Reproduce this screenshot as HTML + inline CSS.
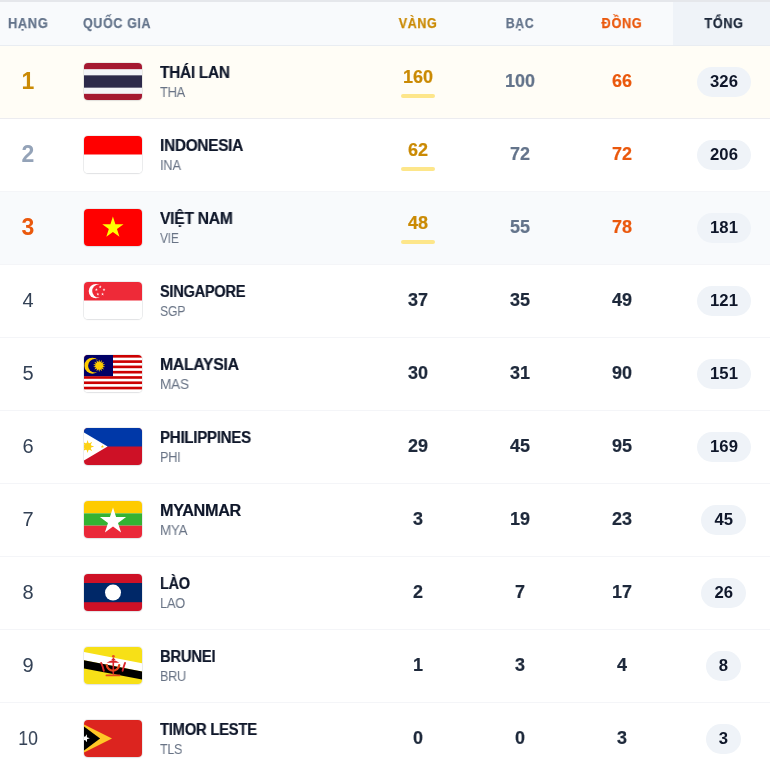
<!DOCTYPE html>
<html><head><meta charset="utf-8"><style>
*{box-sizing:border-box;margin:0;padding:0}
html,body{width:770px;height:773px;overflow:hidden;background:#fff}
body{font-family:"Liberation Sans",sans-serif;position:relative}
.h,.rank,.name,.code,.num,.pill{will-change:transform}
.topb{position:absolute;left:0;top:0;width:770px;height:2px;background:#e5e7eb}
.hdr{position:absolute;left:0;top:2px;width:770px;height:44px;background:#f8fafc;border-bottom:1px solid #e9edf2}
.hdr .tot{position:absolute;left:673px;top:0;width:97px;height:43px;background:#eff3f8}
.h{position:absolute;top:15.1px;font-size:14px;font-weight:bold;letter-spacing:0.7px;-webkit-text-stroke:0.25px currentColor;line-height:16px;color:#64748b;white-space:nowrap}
.row{position:absolute;left:0;width:770px;border-bottom:1px solid #f4f5f8}
.rank{position:absolute;left:0;width:56px;text-align:center;color:#334155;font-size:20px}
.rank.b{font-weight:bold;font-size:23px}
.flag{position:absolute;left:84px;width:58px;height:37px;border-radius:4px;overflow:hidden;box-shadow:0 0 0 1px rgba(15,23,42,0.07),0 1px 2px rgba(15,23,42,0.06)}
.flag svg{display:block}
.name{position:absolute;left:160px;font-size:16px;letter-spacing:-0.3px;-webkit-text-stroke:0.2px currentColor;font-weight:bold;color:#0f172a;white-space:nowrap}
.code{position:absolute;left:160px;font-size:14px;letter-spacing:-0.3px;color:#687385;white-space:nowrap}
.num{position:absolute;width:102px;text-align:center;font-size:18px;font-weight:bold;color:#1e293b;-webkit-text-stroke:0.2px currentColor}
.ul{position:absolute;width:34px;height:4px;border-radius:2px;background:#fde68a}
.pill{position:absolute;height:30px;border-radius:15px;background:#eff3f8;text-align:center;font-size:15.6px;font-weight:bold;line-height:30px;color:#0f172a}
.pill span{display:inline-block;transform:scaleX(1.07);position:relative;top:0.4px;left:-0.1px}
</style></head><body>
<div class="topb"></div>
<div class="hdr"><div class="tot"></div></div>
<div class="h" style="left:7.8px;transform:scaleX(0.9186);transform-origin:0 0">HẠNG</div>
<div class="h" style="left:83px;transform:scaleX(0.8921);transform-origin:0 0">QUỐC GIA</div>
<div class="h" style="left:366.7px;width:102px;text-align:center;color:#ca8a04;transform:scaleX(0.8953)">VÀNG</div>
<div class="h" style="left:468.8px;width:102px;text-align:center;transform:scaleX(0.8750)">BẠC</div>
<div class="h" style="left:571px;width:102px;text-align:center;color:#ea580c;transform:scaleX(0.9114)">ĐỒNG</div>
<div class="h" style="left:673.2px;width:102px;text-align:center;color:#1e293b;transform:scaleX(0.9093)">TỔNG</div>

<div class="row" style="top:46.00px;height:73px;background:#fffdf6;border-bottom-color:#ececf0">
<div class="rank b" style="top:21.4px;line-height:28px;color:#ca8a04">1</div>
<div class="flag" style="top:16.8px"><svg width="58" height="37" viewBox="0 0 58 37" preserveAspectRatio="none"><rect width="58" height="37" fill="#A51931"/><rect y="6.166666666666667" width="58" height="24.666666666666668" fill="#F4F5F8"/><rect y="12.333333333333334" width="58" height="12.333333333333334" fill="#2D2A4A"/></svg></div>
<div class="name" style="top:18px;line-height:18px;transform:scaleX(0.9639);transform-origin:0 0">THÁI LAN</div>
<div class="code" style="top:38px;line-height:16px;transform:scaleX(0.9222);transform-origin:0 0">THA</div>
<div class="num" style="left:366.5px;top:21px;line-height:20px;color:#ca8a04">160</div>
<div class="ul" style="left:400.5px;top:48.3px"></div>
<div class="num" style="left:468.5px;top:25.3px;line-height:20px;color:#64748b">100</div>
<div class="num" style="left:570.7px;top:25.3px;line-height:20px;color:#ea580c">66</div>
<div class="pill" style="top:20.7px;left:696.85px;width:54px"><span>326</span></div>
</div>
<div class="row" style="top:119.00px;height:73px;background:#fff">
<div class="rank b" style="top:21.4px;line-height:28px;color:#94a3b8">2</div>
<div class="flag" style="top:16.8px"><svg width="58" height="37" viewBox="0 0 58 37" preserveAspectRatio="none"><rect width="58" height="37" fill="#fff"/><rect width="58" height="18.5" fill="#FF0000"/></svg></div>
<div class="name" style="top:18px;line-height:18px;transform:scaleX(0.9624);transform-origin:0 0">INDONESIA</div>
<div class="code" style="top:38px;line-height:16px;transform:scaleX(0.9227);transform-origin:0 0">INA</div>
<div class="num" style="left:366.5px;top:21px;line-height:20px;color:#ca8a04">62</div>
<div class="ul" style="left:400.5px;top:48.3px"></div>
<div class="num" style="left:468.5px;top:25.3px;line-height:20px;color:#64748b">72</div>
<div class="num" style="left:570.7px;top:25.3px;line-height:20px;color:#ea580c">72</div>
<div class="pill" style="top:20.7px;left:696.85px;width:54px"><span>206</span></div>
</div>
<div class="row" style="top:192.00px;height:73px;background:#f8fafc">
<div class="rank b" style="top:21.4px;line-height:28px;color:#ea580c">3</div>
<div class="flag" style="top:16.8px"><svg width="58" height="37" viewBox="0 0 58 37" preserveAspectRatio="none"><rect width="58" height="37" fill="#FF0000"/><polygon points="28.90,7.60 31.41,15.34 39.55,15.34 32.97,20.12 35.48,27.86 28.90,23.08 22.32,27.86 24.83,20.12 18.25,15.34 26.39,15.34" fill="#FFFF00"/></svg></div>
<div class="name" style="top:18px;line-height:18px;transform:scaleX(0.9797);transform-origin:0 0">VIỆT NAM</div>
<div class="code" style="top:38px;line-height:16px;transform:scaleX(0.8500);transform-origin:0 0">VIE</div>
<div class="num" style="left:366.5px;top:21px;line-height:20px;color:#ca8a04">48</div>
<div class="ul" style="left:400.5px;top:48.3px"></div>
<div class="num" style="left:468.5px;top:25.3px;line-height:20px;color:#64748b">55</div>
<div class="num" style="left:570.7px;top:25.3px;line-height:20px;color:#ea580c">78</div>
<div class="pill" style="top:20.7px;left:696.85px;width:54px"><span>181</span></div>
</div>
<div class="row" style="top:265.00px;height:73px;background:#fff">
<div class="rank" style="top:21px;line-height:28px">4</div>
<div class="flag" style="top:16.8px"><svg width="58" height="37" viewBox="0 0 58 37" preserveAspectRatio="none"><rect width="58" height="37" fill="#fff"/><rect width="58" height="18.5" fill="#EE2A38"/><circle cx="11.9" cy="9.1" r="7.2" fill="#fff"/><circle cx="14.7" cy="9.1" r="6.5" fill="#EE2A38"/><polygon points="16.20,3.30 16.56,4.41 17.72,4.41 16.78,5.09 17.14,6.19 16.20,5.51 15.26,6.19 15.62,5.09 14.68,4.41 15.84,4.41" fill="#fff"/><polygon points="20.00,6.06 20.36,7.17 21.53,7.17 20.59,7.85 20.94,8.96 20.00,8.28 19.06,8.96 19.42,7.85 18.48,7.17 19.64,7.17" fill="#fff"/><polygon points="18.55,10.54 18.91,11.64 20.07,11.64 19.13,12.32 19.49,13.43 18.55,12.75 17.61,13.43 17.97,12.32 17.03,11.64 18.19,11.64" fill="#fff"/><polygon points="13.85,10.54 14.21,11.64 15.37,11.64 14.43,12.32 14.79,13.43 13.85,12.75 12.91,13.43 13.27,12.32 12.33,11.64 13.49,11.64" fill="#fff"/><polygon points="12.40,6.06 12.76,7.17 13.92,7.17 12.98,7.85 13.34,8.96 12.40,8.28 11.46,8.96 11.81,7.85 10.87,7.17 12.04,7.17" fill="#fff"/></svg></div>
<div class="name" style="top:18px;line-height:18px;transform:scaleX(0.9117);transform-origin:0 0">SINGAPORE</div>
<div class="code" style="top:38px;line-height:16px;transform:scaleX(0.8750);transform-origin:0 0">SGP</div>
<div class="num" style="left:366.5px;top:25.3px;line-height:20px">37</div>
<div class="num" style="left:468.5px;top:25.3px;line-height:20px">35</div>
<div class="num" style="left:570.7px;top:25.3px;line-height:20px">49</div>
<div class="pill" style="top:20.7px;left:696.85px;width:54px"><span>121</span></div>
</div>
<div class="row" style="top:338.00px;height:73px;background:#fff">
<div class="rank" style="top:21px;line-height:28px">5</div>
<div class="flag" style="top:16.8px"><svg width="58" height="37" viewBox="0 0 58 37" preserveAspectRatio="none"><rect width="58" height="37" fill="#fff"/><rect y="0.000" width="58" height="2.643" fill="#CC0001"/><rect y="5.286" width="58" height="2.643" fill="#CC0001"/><rect y="10.571" width="58" height="2.643" fill="#CC0001"/><rect y="15.857" width="58" height="2.643" fill="#CC0001"/><rect y="21.143" width="58" height="2.643" fill="#CC0001"/><rect y="26.429" width="58" height="2.643" fill="#CC0001"/><rect y="31.714" width="58" height="2.643" fill="#CC0001"/><rect width="29.0" height="21.143" fill="#010066"/><circle cx="8.4" cy="10.7" r="8.0" fill="#FFCC00"/><circle cx="10.9" cy="10.7" r="6.8" fill="#010066"/><polygon points="15.20,4.50 16.00,7.19 17.89,5.11 17.44,7.89 20.05,6.83 18.44,9.14 21.24,9.32 18.80,10.70 21.24,12.08 18.44,12.26 20.05,14.57 17.44,13.51 17.89,16.29 16.00,14.21 15.20,16.90 14.40,14.21 12.51,16.29 12.96,13.51 10.35,14.57 11.96,12.26 9.16,12.08 11.60,10.70 9.16,9.32 11.96,9.14 10.35,6.83 12.96,7.89 12.51,5.11 14.40,7.19" fill="#FFCC00"/></svg></div>
<div class="name" style="top:18px;line-height:18px;transform:scaleX(0.9873);transform-origin:0 0">MALAYSIA</div>
<div class="code" style="top:38px;line-height:16px;transform:scaleX(0.9750);transform-origin:0 0">MAS</div>
<div class="num" style="left:366.5px;top:25.3px;line-height:20px">30</div>
<div class="num" style="left:468.5px;top:25.3px;line-height:20px">31</div>
<div class="num" style="left:570.7px;top:25.3px;line-height:20px">90</div>
<div class="pill" style="top:20.7px;left:696.85px;width:54px"><span>151</span></div>
</div>
<div class="row" style="top:411.00px;height:73px;background:#fff">
<div class="rank" style="top:21px;line-height:28px">6</div>
<div class="flag" style="top:16.8px"><svg width="58" height="37" viewBox="0 0 58 37" preserveAspectRatio="none"><rect width="58" height="37" fill="#CE1126"/><rect width="58" height="18.5" fill="#0038A8"/><polygon points="-2,3.2 23.6,18.5 -2,33.8" fill="#fff"/><polygon points="10.20,18.50 6.37,19.65 8.27,23.17 4.75,21.27 3.60,25.10 2.45,21.27 -1.07,23.17 0.83,19.65 -3.00,18.50 0.83,17.35 -1.07,13.83 2.45,15.73 3.60,11.90 4.75,15.73 8.27,13.83 6.37,17.35" fill="#FCD116"/><circle cx="3.6" cy="18.5" r="3.6" fill="#FCD116"/><polygon points="18.40,16.80 18.78,17.97 20.02,17.97 19.02,18.70 19.40,19.88 18.40,19.15 17.40,19.88 17.78,18.70 16.78,17.97 18.02,17.97" fill="#FCD116"/></svg></div>
<div class="name" style="top:18px;line-height:18px;transform:scaleX(0.9432);transform-origin:0 0">PHILIPPINES</div>
<div class="code" style="top:38px;line-height:16px;transform:scaleX(0.9143);transform-origin:0 0">PHI</div>
<div class="num" style="left:366.5px;top:25.3px;line-height:20px">29</div>
<div class="num" style="left:468.5px;top:25.3px;line-height:20px">45</div>
<div class="num" style="left:570.7px;top:25.3px;line-height:20px">95</div>
<div class="pill" style="top:20.7px;left:696.85px;width:54px"><span>169</span></div>
</div>
<div class="row" style="top:484.00px;height:73px;background:#fff">
<div class="rank" style="top:21px;line-height:28px">7</div>
<div class="flag" style="top:16.8px"><svg width="58" height="37" viewBox="0 0 58 37" preserveAspectRatio="none"><rect width="58" height="12.333333333333334" fill="#FECB00"/><rect y="12.333333333333334" width="58" height="12.333333333333334" fill="#34B233"/><rect y="24.666666666666668" width="58" height="12.833333333333334" fill="#EA2839"/><polygon points="29.00,6.50 32.10,16.04 42.12,16.04 34.01,21.93 37.11,31.46 29.00,25.57 20.89,31.46 23.99,21.93 15.88,16.04 25.90,16.04" fill="#fff"/></svg></div>
<div class="name" style="top:18px;line-height:18px;transform:scaleX(1.0127);transform-origin:0 0">MYANMAR</div>
<div class="code" style="top:38px;line-height:16px;transform:scaleX(0.9643);transform-origin:0 0">MYA</div>
<div class="num" style="left:366.5px;top:25.3px;line-height:20px">3</div>
<div class="num" style="left:468.5px;top:25.3px;line-height:20px">19</div>
<div class="num" style="left:570.7px;top:25.3px;line-height:20px">23</div>
<div class="pill" style="top:20.7px;left:701.35px;width:45px"><span>45</span></div>
</div>
<div class="row" style="top:557.00px;height:73px;background:#fff">
<div class="rank" style="top:21px;line-height:28px">8</div>
<div class="flag" style="top:16.8px"><svg width="58" height="37" viewBox="0 0 58 37" preserveAspectRatio="none"><rect width="58" height="37" fill="#CE1126"/><rect y="9.0" width="58" height="19.2" fill="#002868"/><circle cx="29" cy="18.6" r="8" fill="#fff"/></svg></div>
<div class="name" style="top:18px;line-height:18px;transform:scaleX(0.9031);transform-origin:0 0">LÀO</div>
<div class="code" style="top:38px;line-height:16px;transform:scaleX(0.9192);transform-origin:0 0">LAO</div>
<div class="num" style="left:366.5px;top:25.3px;line-height:20px">2</div>
<div class="num" style="left:468.5px;top:25.3px;line-height:20px">7</div>
<div class="num" style="left:570.7px;top:25.3px;line-height:20px">17</div>
<div class="pill" style="top:20.7px;left:701.35px;width:45px"><span>26</span></div>
</div>
<div class="row" style="top:630.00px;height:73px;background:#fff">
<div class="rank" style="top:21px;line-height:28px">9</div>
<div class="flag" style="top:16.8px"><svg width="58" height="37" viewBox="0 0 58 37" preserveAspectRatio="none"><rect width="58" height="37" fill="#F7E017"/><polygon points="0,4.9 58,16.3 58,24.6 0,13.2" fill="#fff"/><polygon points="0,13.2 58,24.6 58,32.4 0,21.5" fill="#000"/><g fill="#D9252A"><circle cx="29.4" cy="9.3" r="1.4" fill="#E8501E"/><polygon points="27.1,13.2 29.4,10.4 31.8,13.2"/><path d="M22.6 15.8 Q29.3 11.2 35.4 15.8 Z"/><rect x="28.5" y="13" width="1.6" height="14.5"/><path fill="none" stroke="#E3461F" stroke-width="2.3" stroke-linecap="round" d="M22.8 18.2 A6.3 6.6 0 0 0 35.2 18.2"/></g><g fill="none" stroke="#D9252A" stroke-linecap="round" stroke-width="1.9"><path d="M19.8 23.8 L18.6 19.5 L17.2 16"/><path d="M38.6 23.8 L39.8 19.5 L41 16"/><path d="M22.5 28.4 h13" stroke="#E3461F"/></g></svg></div>
<div class="name" style="top:18px;line-height:18px;transform:scaleX(0.9276);transform-origin:0 0">BRUNEI</div>
<div class="code" style="top:38px;line-height:16px;transform:scaleX(0.9074);transform-origin:0 0">BRU</div>
<div class="num" style="left:366.5px;top:25.3px;line-height:20px">1</div>
<div class="num" style="left:468.5px;top:25.3px;line-height:20px">3</div>
<div class="num" style="left:570.7px;top:25.3px;line-height:20px">4</div>
<div class="pill" style="top:20.7px;left:706.35px;width:35px"><span>8</span></div>
</div>
<div class="row" style="top:703.00px;height:73px;background:#fff">
<div class="rank" style="top:21px;line-height:28px;transform:scaleX(0.89)">10</div>
<div class="flag" style="top:16.8px"><svg width="58" height="37" viewBox="0 0 58 37" preserveAspectRatio="none"><rect width="58" height="37" fill="#DC241F"/><polygon points="0,4.4 28,18.5 0,32.6" fill="#FFC726"/><polygon points="0,6.4 16.1,18.5 0,30.6" fill="#000"/><polygon points="2.84,14.29 2.96,17.28 5.80,18.24 2.99,19.28 2.95,22.28 1.10,19.92 -1.76,20.82 -0.10,18.32 -1.83,15.88 1.05,16.69" fill="#fff"/></svg></div>
<div class="name" style="top:18px;line-height:18px;transform:scaleX(0.9276);transform-origin:0 0">TIMOR LESTE</div>
<div class="code" style="top:38px;line-height:16px;transform:scaleX(0.8920);transform-origin:0 0">TLS</div>
<div class="num" style="left:366.5px;top:25.3px;line-height:20px">0</div>
<div class="num" style="left:468.5px;top:25.3px;line-height:20px">0</div>
<div class="num" style="left:570.7px;top:25.3px;line-height:20px">3</div>
<div class="pill" style="top:20.7px;left:706.35px;width:35px"><span>3</span></div>
</div>
</body></html>
